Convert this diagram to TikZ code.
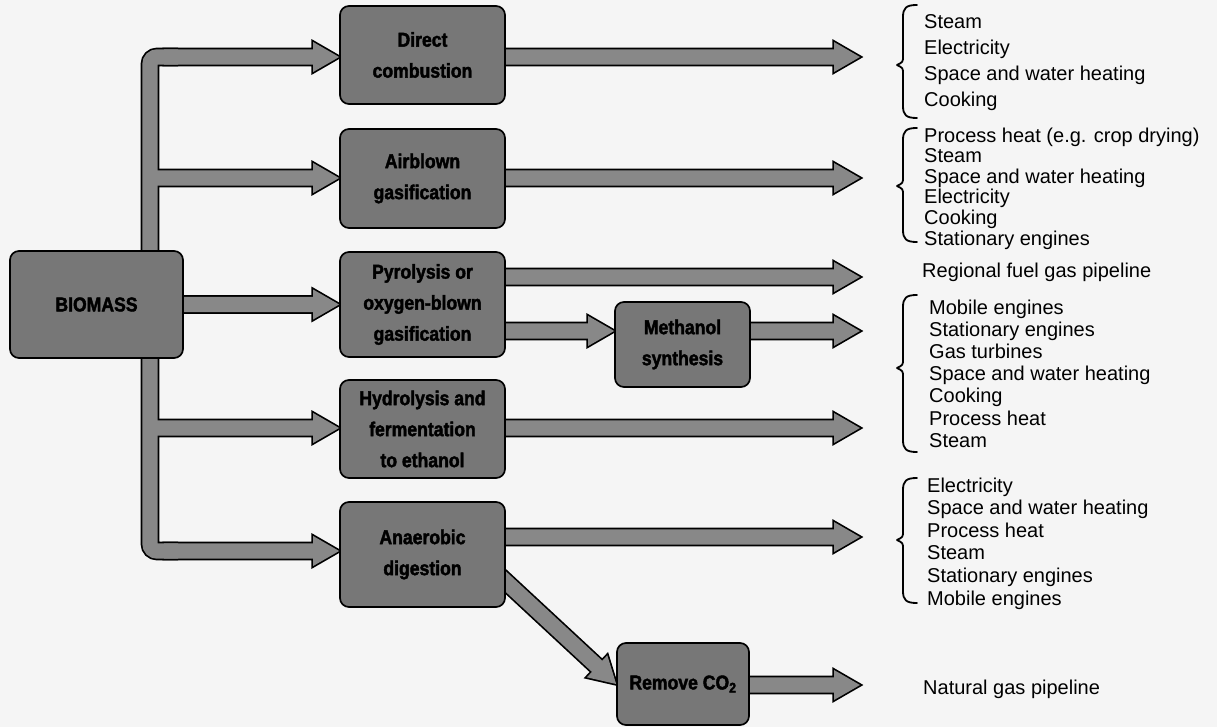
\documentclass[tikz,border=0pt]{standalone}
\usepackage{fontspec}
\setmainfont{Liberation Sans}
\newfontfamily\boxfont[FakeStretch=0.88,FakeBold=2]{Liberation Sans Bold}
\newfontfamily\listfont{Liberation Sans}
\usetikzlibrary{calc}
\definecolor{boxgray}{HTML}{777777}
\definecolor{arrowgray}{HTML}{888888}
\definecolor{paper}{HTML}{F5F5F5}
\pgfdeclarelayer{paperlayer}
\pgfdeclarelayer{arrowout}
\pgfdeclarelayer{arrowin}
\pgfsetlayers{paperlayer,arrowout,arrowin,main}
\tikzset{
  procbox/.style={draw=black, line width=1.7pt, fill=boxgray, rounded corners=9pt,
    align=center, inner sep=0pt, text=black,
    font=\boxfont\fontsize{20}{31}\selectfont},
  fat/.style={to path={
    (\tikztostart) coordinate (fa)
    (\tikztotarget) coordinate (fb)
    ($(fb)!26pt!(fa)$) coordinate (fc)
    ($(fa)!7.6pt!90:(fb)$) -- ($(fc)!7.6pt!-90:(fa)$) -- ($(fc)!15pt!-90:(fa)$)
    -- (fb) -- ($(fc)!15pt!90:(fa)$) -- ($(fc)!7.6pt!90:(fa)$)
    -- ($(fa)!7.6pt!-90:(fb)$) -- cycle}},
  fatout/.style={draw=black, fill=black, line width=3.4pt, line join=miter},
  fatin/.style={fill=arrowgray, draw=none},
  barout/.style={draw=black, line width=18.6pt, rounded corners=7pt},
  barin/.style={draw=arrowgray, line width=15.2pt, rounded corners=7pt},
  uselist/.style={anchor=west, inner sep=0pt, align=left,
    font=\listfont\fontsize{20}{#1}\selectfont},
  bracestyle/.style={draw=black, line width=1.8pt, line cap=round, line join=round}
}
\newcommand{\sidebrace}[3]{%
  \path[bracestyle] (917,#1) .. controls (906,#1) and (903,#1+3) .. (903,#1+12)
    -- (903,#2-9) .. controls (903,#2-3) .. (897,#2)
    .. controls (903,#2+3) .. (903,#2+9) -- (903,#3-12)
    .. controls (903,#3-3) and (906,#3) .. (917,#3);}
\newcommand{\flowpaths}[2]{%
  \path[#1] (bt) -- (j1) -- (j5) -- (bb);
  \path[#2] (st1) to[fat] (direct.west |- st1);
  \path[#2] (j2) to[fat] (airblown.west |- j2);
  \path[#2] (biomass.east) to[fat] (pyro.west);
  \path[#2] (j4) to[fat] (hydro.west |- j4);
  \path[#2] (sb) to[fat] (anaer.west |- sb);
  \path[#2] (s1) to[fat] (o1);
  \path[#2] (s2) to[fat] (o2);
  \path[#2] (s3) to[fat] (o3);
  \path[#2] (s4) to[fat] (methanol.west |- s4);
  \path[#2] (s4m) to[fat] (o4);
  \path[#2] (s5) to[fat] (o5);
  \path[#2] (s6) to[fat] (o6);
  \path[#2] (ds) to[fat] (co2.west);
  \path[#2] (s7) to[fat] (o7);
}
\begin{document}
\begin{tikzpicture}[x=1pt,y=-1pt]
\begin{pgfonlayer}{paperlayer}
\fill[paper] (0,0) rectangle (1217,727);
\end{pgfonlayer}
\useasboundingbox (0,0) rectangle (1217,727);

% process boxes
\node[procbox, minimum width=173pt, minimum height=107pt] (biomass) at (96.5,304.5) {BIOMASS};
\node[procbox, minimum width=165pt, minimum height=98pt] (direct) at (422.5,55) {Direct\\combustion};
\node[procbox, minimum width=165pt, minimum height=99pt] (airblown) at (422.5,178.5) {Airblown\\gasification};
\node[procbox, minimum width=165pt, minimum height=105pt] (pyro) at (422.5,304.5) {Pyrolysis or\\oxygen-blown\\gasification};
\node[procbox, minimum width=135pt, minimum height=85pt] (methanol) at (682.5,344.5) {Methanol\\synthesis};
\node[procbox, minimum width=165pt, minimum height=98pt] (hydro) at (422.5,429) {Hydrolysis and\\fermentation\\to ethanol};
\node[procbox, minimum width=165pt, minimum height=105pt] (anaer) at (422.5,554.5) {Anaerobic\\digestion};
\node[procbox, minimum width=132pt, minimum height=82pt] (co2) at (683,684) {Remove CO\textsubscript{2}};

% junction and end coordinates
\coordinate (bt) at (178,57);
\coordinate (st1) at (164,57);
\coordinate (j1) at (150,57);
\coordinate (j2) at (150,178);
\coordinate (j4) at (150,428);
\coordinate (j5) at (150,551);
\coordinate (sb) at (164,551);
\coordinate (bb) at (178,551);
\coordinate (o1) at (860,57);
\coordinate (o2) at (860,178);
\coordinate (o3) at (860,277);
\coordinate (o4) at (860,331);
\coordinate (o5) at (860,428);
\coordinate (o6) at (860,537);
\coordinate (o7) at (860,685);
\coordinate (s1) at ([xshift=-5pt]direct.east |- o1);
\coordinate (s2) at ([xshift=-5pt]airblown.east |- o2);
\coordinate (s3) at ([xshift=-5pt]pyro.east |- o3);
\coordinate (s4) at ([xshift=-5pt]pyro.east |- o4);
\coordinate (s4m) at ([xshift=-5pt]methanol.east |- o4);
\coordinate (s5) at ([xshift=-5pt]hydro.east |- o5);
\coordinate (s6) at ([xshift=-5pt]anaer.east |- o6);
\coordinate (s7) at ([xshift=-5pt]co2.east |- o7);
\coordinate (ds) at ($(anaer.east)+(-12,16)$);

% connectors: outline pass below, fill pass above
\begin{pgfonlayer}{arrowout}\flowpaths{barout}{fatout}\end{pgfonlayer}
\begin{pgfonlayer}{arrowin}\flowpaths{barin}{fatin}\end{pgfonlayer}

% braces
\sidebrace{5}{65}{118}
\sidebrace{128}{186}{242}
\sidebrace{295}{368}{452}
\sidebrace{478}{540}{603}

% output lists
\node[uselist=26] (g1) at (924,63) {Steam\\Electricity\\Space and water heating\\Cooking};
\node[uselist=20.6] (g2) at (924,188.5) {Process heat (e.g. crop drying)\\Steam\\Space and water heating\\Electricity\\Cooking\\Stationary engines};
\node[uselist=24] (regional) at (922,272) {Regional fuel gas pipeline};
\node[uselist=22.2] (g3) at (929,373.5) {Mobile engines\\Stationary engines\\Gas turbines\\Space and water heating\\Cooking\\Process heat\\Steam};
\node[uselist=22.6] (g4) at (927,543.5) {Electricity\\Space and water heating\\Process heat\\Steam\\Stationary engines\\Mobile engines};
\node[uselist=24] (natural) at (923,689) {Natural gas pipeline};
\end{tikzpicture}
\end{document}
